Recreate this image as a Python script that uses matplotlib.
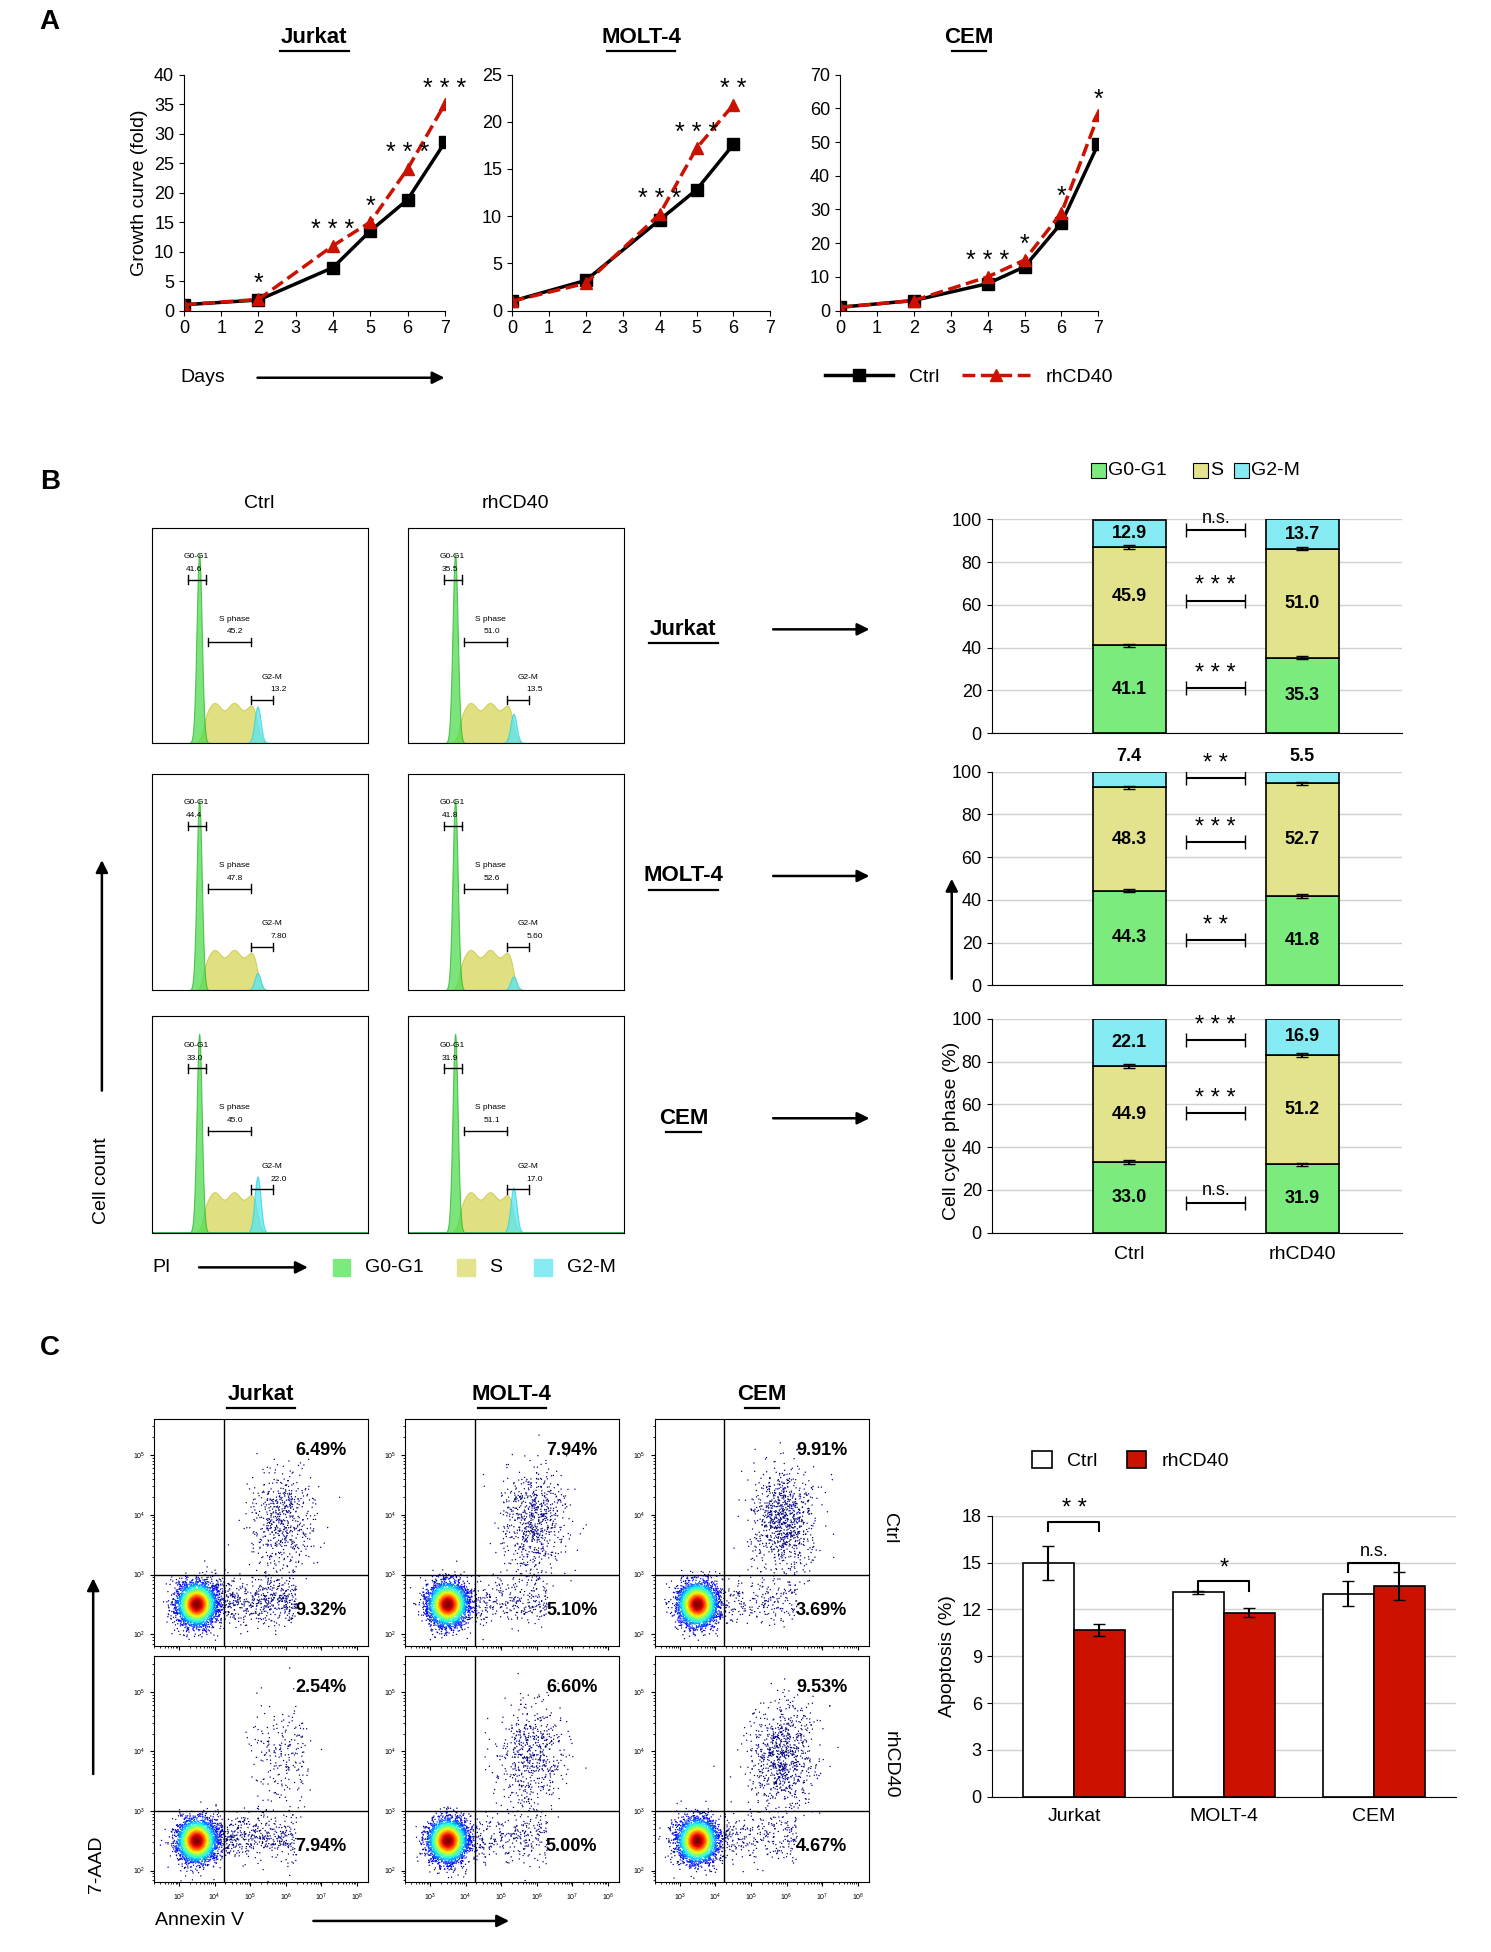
import numpy as np
import matplotlib.pyplot as plt
from matplotlib.lines import Line2D
from matplotlib.patches import Rectangle

plt.rcParams['font.family'] = ['Liberation Sans', 'DejaVu Sans']

# ---------------- data ----------------
# panel A growth curves
jur_days = [0, 2, 4, 5, 6, 7]
jur_ctrl = [1, 1.8, 7.3, 13.5, 18.8, 28.5]
jur_rh = [1, 1.9, 11.0, 15.0, 24.0, 35.0]
jur_sig = ['', '*', '***', '*', '***', '***']
molt_days = [0, 2, 4, 5, 6]
molt_ctrl = [1, 3.2, 9.6, 12.8, 17.6]
molt_rh = [1, 2.9, 10.2, 17.2, 21.8]
molt_sig = ['', '', '***', '***', '**']
cem_days = [0, 2, 4, 5, 6, 7]
cem_ctrl = [1, 3.0, 8.0, 13.0, 26.0, 49.5]
cem_rh = [1, 3.0, 10.0, 15.0, 29.0, 58.0]
cem_sig = ['', '', '***', '*', '*', '*']

# panel B cell cycle (G0-G1, S, G2-M)
lines = ['Jurkat', 'MOLT-4', 'CEM']
cc_ctrl = [[41.1, 45.9, 12.9], [44.3, 48.3, 7.4], [33.0, 44.9, 22.1]]
cc_rh = [[35.3, 51.0, 13.7], [41.8, 52.7, 5.5], [31.9, 51.2, 16.9]]
cc_sig = [['***', '***', 'n.s.'], ['**', '***', '**'], ['n.s.', '***', '***']]
cc_sig_y = [[21, 62, 95], [21, 67, 97], [14, 56, 90]]
# histogram gate labels (G0-G1, S, G2-M) for ctrl / rh
hist_ctrl = [['41.6', '45.2', '13.2'], ['44.4', '47.8', '7.80'], ['33.0', '45.0', '22.0']]
hist_rh = [['35.5', '51.0', '13.5'], ['41.8', '52.6', '5.60'], ['31.9', '51.1', '17.0']]
g1_peak = [0.88, 0.88, 0.92]
g2_peak = [0.17, 0.08, 0.26]

# panel C apoptosis
ur_ctrl = ['6.49%', '7.94%', '9.91%']
lr_ctrl = ['9.32%', '5.10%', '3.69%']
ur_rh = ['2.54%', '6.60%', '9.53%']
lr_rh = ['7.94%', '5.00%', '4.67%']
apo_ctrl = [15.0, 13.1, 13.0]
apo_ctrl_err = [1.1, 0.1, 0.8]
apo_rh = [10.7, 11.8, 13.5]
apo_rh_err = [0.4, 0.3, 0.9]
apo_sig = ['**', '*', 'n.s.']

GREEN = '#7beb7d'
YELLOW = '#e3e38e'
CYAN = '#86eaf2'
RED = '#cc1100'

W, H = 1200.0, 1571.0
fig = plt.figure(figsize=(14.91, 19.52), dpi=100)


def box(x0, y0, x1, y1):
    return fig.add_axes([x0 / W, 1 - y1 / H, (x1 - x0) / W, (y1 - y0) / H])


def ftext(x, y, s, **kw):
    fig.text(x / W, 1 - y / H, s, **kw)


def farrow(x0, y0, x1, y1):
    fig.add_artist(plt.Annotation('', xy=(x1 / W, 1 - y1 / H), xytext=(x0 / W, 1 - y0 / H),
                                  xycoords='figure fraction',
                                  arrowprops=dict(arrowstyle='-|>', color='black', lw=1.8,
                                                  mutation_scale=18)))


def uline(x0, x1, y):
    fig.add_artist(Line2D([x0 / W, x1 / W], [1 - y / H, 1 - y / H], color='black', lw=1.6))


def title_u(cx, y, s):
    ftext(cx, y, s, fontsize=16, fontweight='bold', ha='center', va='center')
    half = len(s) * 4.6
    uline(cx - half, cx + half, y + 11)


for lab, y in [('A', 18), ('B', 388), ('C', 1085)]:
    ftext(32, y, lab, fontsize=20, fontweight='bold', va='center')

# ---------------- panel A ----------------
specs = [
    ('Jurkat', 148, 358, jur_days, jur_ctrl, jur_rh, jur_sig, 40, 5),
    ('MOLT-4', 412, 620, molt_days, molt_ctrl, molt_rh, molt_sig, 25, 5),
    ('CEM', 676, 884, cem_days, cem_ctrl, cem_rh, cem_sig, 70, 10),
]
for name, x0, x1, d, c, r, sig, ymax, step in specs:
    ax = box(x0, 60, x1, 250)
    ax.plot(d, c, color='black', lw=2.5, marker='s', ms=9, label='Ctrl')
    ax.plot(d, r, color=RED, lw=2.5, ls='--', marker='^', ms=9, label='rhCD40')
    for xi, yi, s in zip(d, r, sig):
        if s:
            ax.text(xi, yi + ymax * 0.015, ' '.join(s), ha='center', va='bottom', fontsize=18)
    ax.set_xlim(0, 7)
    ax.set_ylim(0, ymax)
    ax.set_xticks(range(8))
    ax.set_yticks(np.arange(0, ymax + 1, step))
    ax.tick_params(labelsize=13)
    for sp in ['top', 'right']:
        ax.spines[sp].set_visible(False)
    title_u((x0 + x1) / 2, 30, name)
    if name == 'Jurkat':
        ax.set_ylabel('Growth curve (fold)', fontsize=14)
    if name == 'CEM':
        ax.legend(loc='upper center', bbox_to_anchor=(0.5, -0.17), ncol=2, frameon=False,
                  fontsize=14, handlelength=3.5, columnspacing=1.2)
ftext(145, 304, 'Days', fontsize=14, va='center')
farrow(205, 304, 360, 304)

# ---------------- panel B histograms ----------------
xs = np.linspace(0, 1, 600)


def histo(ax, g1h, g2h, labels):
    c1, c2 = 0.22, 0.49
    g1 = g1h * np.exp(-0.5 * ((xs - c1) / 0.012) ** 2)
    s = 0.17 * (1 / (1 + np.exp(-(xs - c1 - 0.02) / 0.008))) * (1 / (1 + np.exp((xs - c2) / 0.01)))
    s = s * (1 + 0.1 * np.sin(xs * 70))
    g2 = g2h * np.exp(-0.5 * ((xs - c2) / 0.014) ** 2)
    ax.fill_between(xs, 0, s, color='#d6d65a', alpha=0.75, lw=0.8, ec='#c8c840')
    ax.fill_between(xs, 0, g2, color='#55e6f5', alpha=0.75, lw=0.8, ec='#30d0e0')
    ax.fill_between(xs, 0, g1, color='#4fdc4f', alpha=0.75, lw=0.8, ec='#30b030')
    ax.set_xlim(0, 1)
    ax.set_ylim(0, 1)
    ax.set_xticks([])
    ax.set_yticks([])
    gates = [(0.17, 0.25, 0.76, 'G0-G1'), (0.26, 0.46, 0.47, 'S phase'), (0.46, 0.56, 0.2, 'G2-M')]
    for (a, b, y, nm), v in zip(gates, labels):
        ax.plot([a, b], [y, y], color='black', lw=1)
        ax.plot([a, a], [y - 0.02, y + 0.02], color='black', lw=1)
        ax.plot([b, b], [y - 0.02, y + 0.02], color='black', lw=1)
        ax.text(a - 0.02 if nm == 'G0-G1' else a + 0.05, y + 0.1, nm, fontsize=6)
        ax.text(a - 0.01 if nm == 'G0-G1' else a + 0.09, y + 0.04, v, fontsize=6)


rows = [(425, 598), (623, 797), (818, 992)]
for i, (y0, y1) in enumerate(rows):
    histo(box(122, y0, 296, y1), g1_peak[i], g2_peak[i], hist_ctrl[i])
    histo(box(328, y0, 502, y1), g1_peak[i], g2_peak[i] * 0.8, hist_rh[i])
    ym = (y0 + y1) / 2 - 5
    title_u(550, ym, lines[i])
    farrow(620, ym, 702, ym)
ftext(209, 405, 'Ctrl', fontsize=14, ha='center', va='center')
ftext(415, 405, 'rhCD40', fontsize=14, ha='center', va='center')
ftext(82, 950, 'Cell count', fontsize=14, rotation=90, ha='center', va='center')
farrow(82, 880, 82, 690)
ftext(123, 1020, 'PI', fontsize=14, va='center')
farrow(158, 1020, 250, 1020)
for x, col, lab in [(268, GREEN, 'G0-G1'), (368, YELLOW, 'S'), (430, CYAN, 'G2-M')]:
    fig.add_artist(Rectangle((x / W, 1 - 1027 / H), 14 / W, 14 / H, color=col,
                             transform=fig.transFigure))
    ftext(x + 26, 1020, lab, fontsize=14, va='center')

# ---------------- panel B stacked bars ----------------
brows = [(418, 590), (621, 793), (820, 992)]
for i, (y0, y1) in enumerate(brows):
    ax = box(798, y0, 1128, y1)
    for xpos, vals in [(0, cc_ctrl[i]), (1, cc_rh[i])]:
        bottom = 0
        for v, col in zip(vals, [GREEN, YELLOW, CYAN]):
            ax.bar(xpos, v, 0.42, bottom=bottom, color=col, edgecolor='black', lw=1.2)
            bottom += v
        ax.errorbar([xpos, xpos], [vals[0], vals[0] + vals[1]], yerr=0.8, fmt='none',
                    ecolor='black', capsize=4, lw=1.5)
        for k, v in enumerate(vals):
            yc = sum(vals[:k]) + v / 2
            if v < 10:
                if k == 2:
                    ax.text(xpos, 103, f'{v:.1f}', ha='center', va='bottom', fontsize=13,
                            fontweight='bold')
                continue
            ax.text(xpos, yc, f'{v:.1f}', ha='center', va='center', fontsize=13, fontweight='bold')
    for s, y in zip(cc_sig[i], cc_sig_y[i]):
        ax.errorbar([0.5], [y], xerr=0.17, fmt='none', ecolor='black', capsize=5, lw=1.5)
        ax.text(0.5, y + 1.5, s if s == 'n.s.' else ' '.join(s), ha='center', va='bottom',
                fontsize=13 if s == 'n.s.' else 17)
    ax.set_xlim(-0.796, 1.574)
    ax.set_ylim(0, 100)
    ax.set_yticks(range(0, 101, 20))
    ax.yaxis.grid(True, color='#d0d0d0', lw=1)
    ax.set_axisbelow(True)
    ax.tick_params(labelsize=13)
    for sp in ['top', 'right']:
        ax.spines[sp].set_visible(False)
    if i < 2:
        ax.set_xticks([])
    else:
        ax.set_xticks([0, 1])
        ax.set_xticklabels(['Ctrl', 'rhCD40'], fontsize=14)
        ax.tick_params(axis='x', length=0, pad=10)
ftext(766, 910, 'Cell cycle phase (%)', fontsize=14, rotation=90, ha='center', va='center')
farrow(766, 790, 766, 705)
for x, col, lab in [(878, GREEN, 'G0-G1'), (960, YELLOW, 'S'), (993, CYAN, 'G2-M')]:
    fig.add_artist(Rectangle((x / W, 1 - 385 / H), 12 / W, 12 / H, facecolor=col,
                             edgecolor='black', lw=0.8, transform=fig.transFigure))
    ftext(x + 14, 379, lab, fontsize=14, va='center')

# ---------------- panel C dot plots ----------------
rng = np.random.default_rng(3)  # texture of the flow clouds only


def dots(ax, ur, lr, ur_lab, lr_lab):
    n0 = 3500
    x = np.concatenate([rng.normal(3.5, 0.28, n0), rng.uniform(4.0, 6.3, int(lr * 60)),
                        rng.normal(5.9, 0.45, int(ur * 90))])
    y = np.concatenate([rng.normal(2.5, 0.18, n0), rng.normal(2.55, 0.2, int(lr * 60)),
                        rng.normal(3.9, 0.45, int(ur * 90))])
    d = np.exp(-(((x - 3.5) / 0.3) ** 2 + ((y - 2.5) / 0.2) ** 2) / 2)
    order = np.argsort(d)
    ax.scatter(10 ** x[order], 10 ** y[order], c=d[order], cmap='jet', s=1.0, vmin=0, vmax=1,
               lw=0)
    ax.set_xscale('log')
    ax.set_yscale('log')
    ax.set_xlim(10 ** 2.3, 10 ** 8.3)
    ax.set_ylim(10 ** 1.8, 10 ** 5.6)
    ax.axvline(10 ** 4.25, color='black', lw=1)
    ax.axhline(10 ** 3.0, color='black', lw=1)
    ax.set_xticks([10 ** k for k in range(3, 9)])
    ax.set_yticks([10 ** k for k in range(2, 6)])
    ax.tick_params(labelsize=5, which='major', length=3)
    ax.tick_params(which='minor', length=1.5)
    ax.text(0.9, 0.84, ur_lab, transform=ax.transAxes, ha='right', fontsize=13, fontweight='bold')
    ax.text(0.9, 0.14, lr_lab, transform=ax.transAxes, ha='right', fontsize=13, fontweight='bold')


cols = [(124, 296), (326, 498), (527, 699)]
for j, (x0, x1) in enumerate(cols):
    dots(box(x0, 1142, x1, 1325), float(ur_ctrl[j][:-1]), float(lr_ctrl[j][:-1]), ur_ctrl[j], lr_ctrl[j])
    dots(box(x0, 1333, x1, 1515), float(ur_rh[j][:-1]), float(lr_rh[j][:-1]), ur_rh[j], lr_rh[j])
    title_u((x0 + x1) / 2, 1122, lines[j])
ftext(716, 1230, 'Ctrl', fontsize=14, rotation=-90, ha='center', va='center')
ftext(716, 1420, 'rhCD40', fontsize=14, rotation=-90, ha='center', va='center')
ftext(78, 1500, '7-AAD', fontsize=14, rotation=90, ha='center', va='center')
farrow(75, 1430, 75, 1268)
ftext(125, 1546, 'Annexin V', fontsize=14, va='center')
farrow(250, 1546, 412, 1546)

# ---------------- panel C bars ----------------
ax = box(798, 1220, 1172, 1446)
gx = np.arange(3)
w = 0.34
ax.bar(gx - w / 2, apo_ctrl, w, yerr=apo_ctrl_err, color='white', edgecolor='black', lw=1.2,
       capsize=4, error_kw=dict(lw=1.5), label='Ctrl')
ax.bar(gx + w / 2, apo_rh, w, yerr=apo_rh_err, color=RED, edgecolor='black', lw=1.2,
       capsize=4, error_kw=dict(lw=1.5), label='rhCD40')
for i, s in enumerate(apo_sig):
    top = max(apo_ctrl[i] + apo_ctrl_err[i], apo_rh[i] + apo_rh_err[i]) + 0.6
    if i == 0:
        top = 17.6
    ax.plot([i - w / 2, i - w / 2, i + w / 2, i + w / 2], [top - 0.6, top, top, top - 0.6],
            color='black', lw=1.5)
    ax.text(i, top + 0.15, s if s == 'n.s.' else ' '.join(s), ha='center', va='bottom',
            fontsize=13 if s == 'n.s.' else 17)
ax.set_xlim(-0.55, 2.55)
ax.set_ylim(0, 18)
ax.set_yticks(range(0, 19, 3))
ax.set_xticks(gx)
ax.set_xticklabels(lines, fontsize=14)
ax.tick_params(axis='y', labelsize=13)
ax.tick_params(axis='x', length=0, pad=8)
ax.yaxis.grid(True, color='#d0d0d0', lw=1)
ax.set_axisbelow(True)
for sp in ['top', 'right']:
    ax.spines[sp].set_visible(False)
ax.set_ylabel('Apoptosis (%)', fontsize=14)
ax.legend(loc='lower left', bbox_to_anchor=(0.05, 1.1), ncol=2, frameon=False, fontsize=14,
          handlelength=1.0, handleheight=1.0, columnspacing=1.5)

fig.savefig('out.png', dpi=100)
